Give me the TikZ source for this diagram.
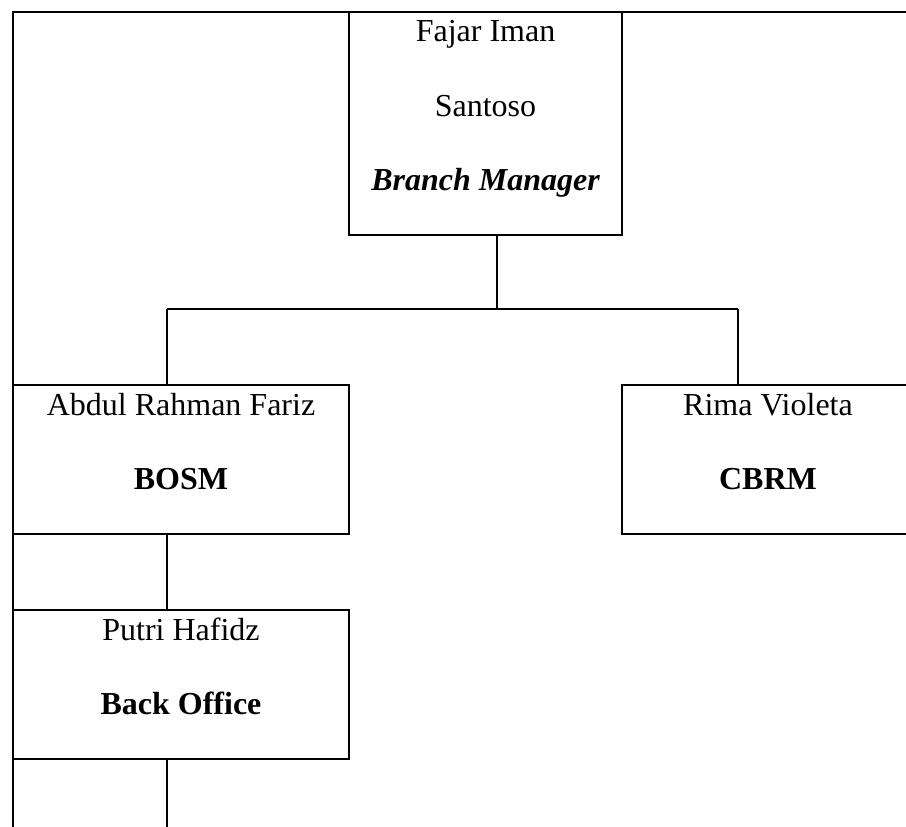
\documentclass[tikz,border=0pt]{standalone}
\usepackage{fontspec}
\setmainfont{Liberation Serif}
\begin{document}
\begin{tikzpicture}[x=0.75pt,y=-0.75pt]
\tikzset{ box/.style={draw, line width=1.5pt, inner sep=0pt, outer sep=0pt},
          link/.style={line width=1.5pt},
          txt/.style={anchor=base, inner sep=0pt, font=\fontsize{24}{28}\selectfont} }

\useasboundingbox (0,0) rectangle (906,826);
\clip (0,0) rectangle (906,826);

%\draw [lightgray, dashed](0,0) grid (906,826);

% frame
\draw [link] (906,12) -- (13,12) -- (13,830);

\node [box, minimum width=204.75pt, minimum height=167.25pt] (BM) at (485.5,123.5) {};
\node [box, minimum width=252pt, minimum height=111.75pt] (BOSM) at (181,459.5) {};
\node [box, minimum width=219pt, minimum height=111.75pt] (CBRM) at (768,459.5) {};
\node [box, minimum width=252pt, minimum height=111.75pt] (BO) at (181,684.5) {};

\node [txt] (bmname) at (485.5,41) {Fajar Iman};
\node [txt] (bmname2) at (485.5,116) {Santoso};
\node [txt, font=\fontsize{24}{28}\selectfont\bfseries\itshape] (bmrole) at (485.5,190) {Branch Manager};

\node [txt] (bosmname) at (181,415) {Abdul Rahman Fariz};
\node [txt, font=\fontsize{24}{28}\selectfont\bfseries] (bosmrole) at (181,489) {BOSM};

\node [txt] (cbrmname) at (768,415) {Rima Violeta};
\node [txt, font=\fontsize{24}{28}\selectfont\bfseries] (cbrmrole) at (768,489) {CBRM};

\node [txt] (boname) at (181,640) {Putri Hafidz};
\node [txt, font=\fontsize{24}{28}\selectfont\bfseries] (borole) at (181,714) {Back Office};

\coordinate (split) at (496.5,309);
\coordinate (L) at (167,309);
\coordinate (R) at (738,309);
\coordinate (end) at (167,830);

\draw [link] (BM.south -| split) -- (split);
\draw [link] (L) -- (R);
\draw [link] (L) -- (L |- BOSM.north);
\draw [link] (R) -- (R |- CBRM.north);
\draw [link] (BOSM.south -| L) -- (BO.north -| L);
\draw [link] (BO.south -| L) -- (end);
\end{tikzpicture}
\end{document}
